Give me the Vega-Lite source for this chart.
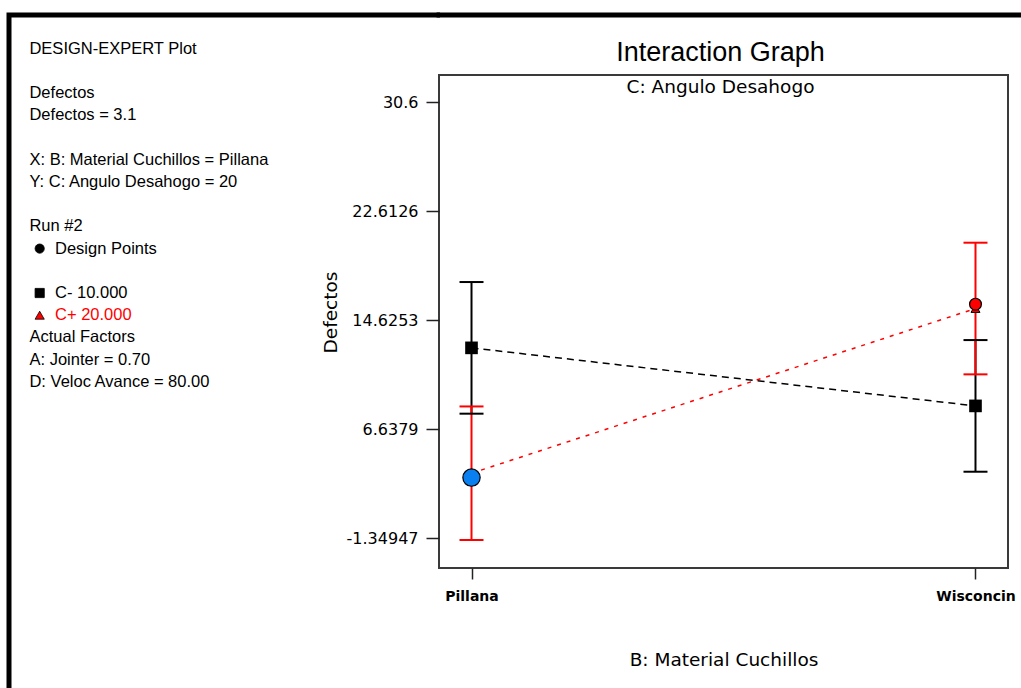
{
  "$schema": "https://vega.github.io/schema/vega-lite/v6.json",
  "background": "white",
  "padding": {"left": 5, "top": 11, "right": 0, "bottom": 0},
  "bounds": "flush",
  "spacing": 0,
  "config": {"view": {"stroke": null}},
  "resolve": {"scale": {"color": "independent", "shape": "independent"}},
  "hconcat": [
    {
      "width": 429.5,
      "height": 671,
      "view": {"stroke": "#000000", "strokeWidth": 5, "strokeCap": "square", "strokeDash": [428.5, 1101.5, 671, 0]},
      "data": {"values": [
        {"line": 0, "text": "DESIGN-EXPERT Plot", "series": "info"},
        {"line": 2, "text": "Defectos", "series": "info"},
        {"line": 3, "text": "Defectos = 3.1", "series": "info"},
        {"line": 5, "text": "X: B: Material Cuchillos = Pillana", "series": "info"},
        {"line": 6, "text": "Y: C: Angulo Desahogo = 20", "series": "info"},
        {"line": 8, "text": "Run #2", "series": "info"},
        {"line": 9, "text": "Design Points", "series": "design"},
        {"line": 11, "text": "C- 10.000", "series": "C-"},
        {"line": 12, "text": "C+ 20.000", "series": "C+"},
        {"line": 13, "text": "Actual Factors", "series": "info"},
        {"line": 14, "text": "A: Jointer = 0.70", "series": "info"},
        {"line": 15, "text": "D: Veloc Avance = 80.00", "series": "info"}
      ]},
      "encoding": {
        "y": {"field": "line", "type": "quantitative", "scale": {"domain": [-1.5225, 28.7025], "reverse": true}, "axis": null},
        "color": {"field": "series", "type": "nominal", "scale": {"domain": ["info", "design", "C-", "C+"], "range": ["#000000", "#000000", "#000000", "#ff0000"]}, "legend": null}
      },
      "layer": [
        {
          "transform": [{"filter": "datum.series === 'info'"}],
          "mark": {"type": "text", "align": "left", "baseline": "middle", "font": "Liberation Sans", "fontSize": 16.5},
          "encoding": {
            "x": {"datum": 0, "type": "quantitative", "scale": {"domain": [-1, 20]}, "axis": null},
            "text": {"field": "text"}
          }
        },
        {
          "transform": [{"filter": "datum.series !== 'info'"}],
          "mark": {"type": "text", "align": "left", "baseline": "middle", "font": "Liberation Sans", "fontSize": 16.5},
          "encoding": {
            "x": {"datum": 1.25, "type": "quantitative", "scale": {"domain": [-1, 20]}, "axis": null},
            "text": {"field": "text"}
          }
        },
        {
          "transform": [{"filter": "datum.series !== 'info'"}],
          "mark": {"type": "point", "filled": true, "opacity": 1, "size": 85, "stroke": "#000000", "strokeWidth": 0.8},
          "encoding": {
            "x": {"datum": 0.5, "type": "quantitative", "scale": {"domain": [-1, 20]}, "axis": null},
            "shape": {"field": "series", "type": "nominal", "scale": {"domain": ["design", "C-", "C+"], "range": ["circle", "square", "triangle-up"]}, "legend": null}
          }
        }
      ]
    },
    {
      "spacing": 0,
      "bounds": "flush",
      "vconcat": [
        {
          "width": 579.5,
          "height": 59.5,
          "view": {"stroke": "#000000", "strokeWidth": 5, "strokeCap": "square", "strokeDash": [579.5, 5000]},
          "data": {"values": []},
          "mark": "point"
        },
        {
          "width": 569,
          "height": 493,
          "view": {"stroke": "#3a3a3a", "strokeWidth": 2},
          "title": {
            "text": "Interaction Graph",
            "subtitle": "C: Angulo Desahogo",
            "font": "Liberation Sans",
            "fontSize": 27,
            "fontWeight": "normal",
            "color": "#000000",
            "subtitleFont": "DejaVu Sans",
            "subtitleFontSize": 18.5,
            "subtitleColor": "#000000",
            "subtitlePadding": 11,
            "offset": -22,
            "anchor": "middle",
            "dx": -3
          },
          "data": {"values": [
            {"material": "Pillana", "series": "C-", "pred": 12.6, "lo": 7.78, "hi": 17.42},
            {"material": "Wisconcin", "series": "C-", "pred": 8.35, "lo": 3.53, "hi": 13.17},
            {"material": "Pillana", "series": "C+", "pred": 3.42, "lo": -1.47, "hi": 8.31},
            {"material": "Wisconcin", "series": "C+", "pred": 15.48, "lo": 10.66, "hi": 20.3}
          ]},
          "encoding": {
            "x": {
              "field": "material",
              "type": "nominal",
              "title": "B: Material Cuchillos",
              "scale": {"type": "point", "domain": ["Pillana", "Wisconcin"], "padding": 0.0645},
              "axis": {
                "domain": false, "grid": false, "tickSize": 11, "tickWidth": 1.5, "tickColor": "#222222",
                "labelFont": "DejaVu Sans", "labelFontWeight": 600, "labelFontSize": 14, "labelAngle": 0,
                "labelPadding": 10, "labelColor": "#000000",
                "titleFont": "DejaVu Sans", "titleFontSize": 18.5, "titleFontWeight": "normal", "titleColor": "#000000",
                "titleY": 91, "titleBaseline": "middle"
              }
            }
          },
          "layer": [
            {
              "mark": {"type": "line", "strokeWidth": 1.5},
              "encoding": {
                "y": {
                  "field": "pred", "type": "quantitative", "title": "Defectos",
                  "scale": {"domain": [-3.52, 32.58], "nice": false, "zero": false},
                  "axis": {
                    "values": [30.6, 22.6126, 14.6253, 6.6379, -1.34947],
                    "labelExpr": "'' + datum.value",
                    "domain": false, "grid": false, "tickSize": 13, "tickWidth": 1.5, "tickColor": "#222222",
                    "labelFont": "DejaVu Sans", "labelFontSize": 16, "labelColor": "#000000", "labelPadding": 8,
                    "titleFont": "DejaVu Sans", "titleFontSize": 18.5, "titleFontWeight": "normal", "titleColor": "#000000",
                    "titleX": -109, "titleY": 237, "titleAlign": "center", "titleBaseline": "middle", "titleAngle": 270
                  }
                },
                "color": {"field": "series", "type": "nominal", "scale": {"domain": ["C-", "C+"], "range": ["#000000", "#ff0000"]}, "legend": null},
                "strokeDash": {"field": "series", "type": "nominal", "scale": {"domain": ["C-", "C+"], "range": [[7, 5], [4, 6]]}, "legend": null}
              }
            },
            {
              "mark": {"type": "rule", "strokeWidth": 2},
              "encoding": {
                "y": {"field": "lo", "type": "quantitative", "title": "Defectos"},
                "y2": {"field": "hi"},
                "color": {"field": "series", "type": "nominal", "legend": null}
              }
            },
            {
              "mark": {"type": "tick", "size": 24, "thickness": 2, "opacity": 1},
              "encoding": {
                "y": {"field": "lo", "type": "quantitative", "title": "Defectos"},
                "color": {"field": "series", "type": "nominal", "legend": null}
              }
            },
            {
              "mark": {"type": "tick", "size": 24, "thickness": 2, "opacity": 1},
              "encoding": {
                "y": {"field": "hi", "type": "quantitative", "title": "Defectos"},
                "color": {"field": "series", "type": "nominal", "legend": null}
              }
            },
            {
              "transform": [{"filter": "datum.series === 'C-'"}],
              "mark": {"type": "point", "shape": "square", "filled": true, "opacity": 1, "size": 160, "color": "#000000"},
              "encoding": {"y": {"field": "pred", "type": "quantitative", "title": "Defectos"}}
            },
            {
              "transform": [{"filter": "datum.series === 'C+'"}],
              "mark": {"type": "point", "shape": "triangle-up", "filled": true, "opacity": 1, "size": 80, "fill": "#ff0000", "stroke": "#000000", "strokeWidth": 1},
              "encoding": {"y": {"field": "pred", "type": "quantitative", "title": "Defectos"}}
            },
            {
              "data": {"values": [
                {"material": "Pillana", "value": 3.1, "run": "Run #2"},
                {"material": "Wisconcin", "value": 15.8, "run": "other"}
              ]},
              "mark": {"type": "point", "shape": "circle", "filled": true, "opacity": 1, "stroke": "#000000", "strokeWidth": 1.2},
              "encoding": {
                "y": {"field": "value", "type": "quantitative", "title": "Defectos"},
                "fill": {"condition": {"test": "datum.run === 'Run #2'", "value": "#0a7ff0"}, "value": "#ff0000"},
                "size": {"condition": {"test": "datum.run === 'Run #2'", "value": 300}, "value": 140}
              }
            }
          ]
        }
      ]
    }
  ]
}
